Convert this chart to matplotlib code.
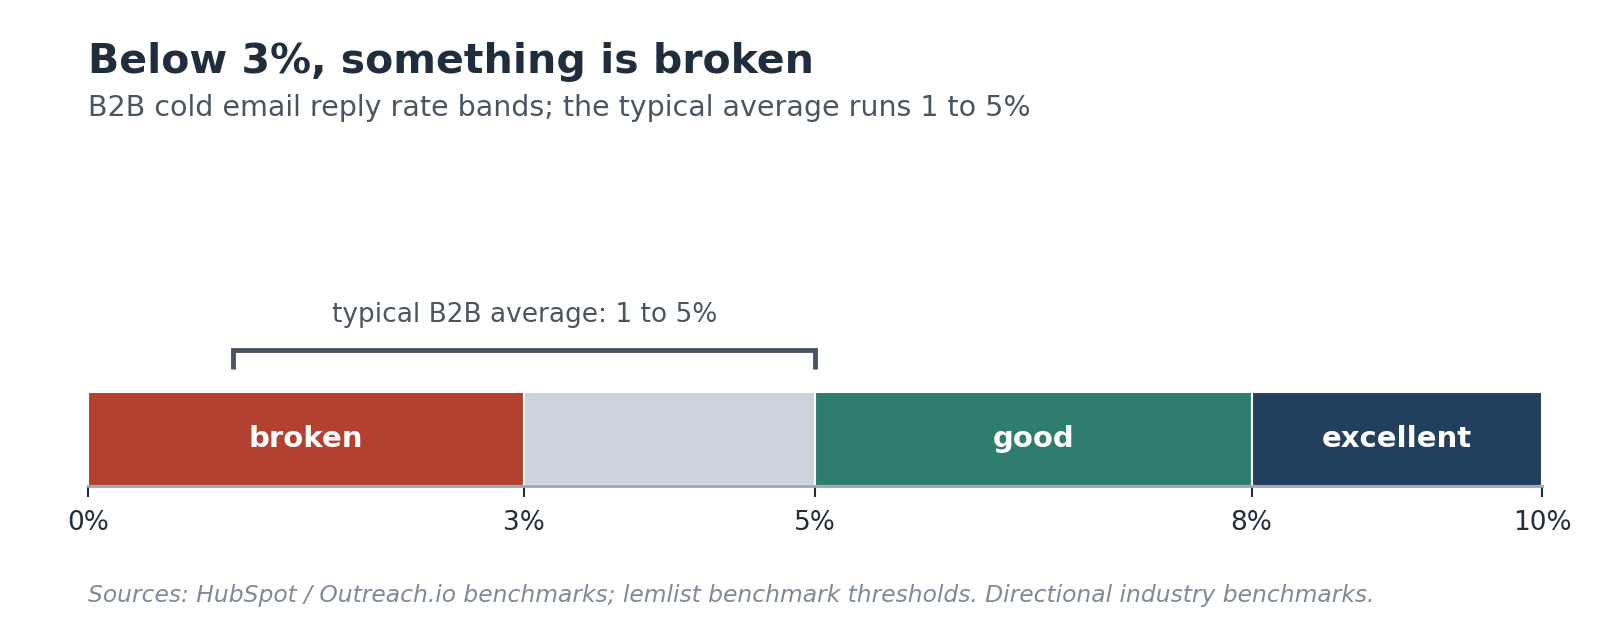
import matplotlib
matplotlib.use('Agg')
import matplotlib.pyplot as plt

bands = ['broken', '', 'good', 'excellent']
starts = [0, 3, 5, 8]
ends = [3, 5, 8, 10]
colors = ['#B34130', '#CBD3DC', '#2E7D6E', '#233F5E']
ticks = [0, 3, 5, 8, 10]
tick_labels = ['0%', '3%', '5%', '8%', '10%']
avg_lo, avg_hi = 1, 5

fig = plt.figure(figsize=(16, 6.4), dpi=100)
ax = fig.add_axes([0.055, 0.2406, 0.909, 0.306])

for name, s, e, c in zip(bands, starts, ends, colors):
    ax.barh(0, e - s, left=s, height=0.48, align='edge', color=c,
            edgecolor='white', linewidth=1.5)
    if name:
        ax.text((s + e) / 2, 0.24, name, ha='center', va='center',
                color='white', fontsize=21, fontweight='bold')

# bracket for typical average
ax.plot([avg_lo, avg_lo, avg_hi, avg_hi], [0.597, 0.694, 0.694, 0.597],
        color='#4A5562', lw=3.5, solid_capstyle='butt', solid_joinstyle='miter')
ax.text((avg_lo + avg_hi) / 2, 0.872, 'typical B2B average: 1 to 5%',
        ha='center', va='center', fontsize=19, color='#4A5562')

ax.set_xlim(0, 10)
ax.set_ylim(0, 1)
ax.set_xticks(ticks)
ax.set_xticklabels(tick_labels, fontsize=19, color='#1F2D3D')
ax.tick_params(axis='x', length=8, width=1.5, color='#1F2D3D', pad=9)
ax.set_yticks([])
for sp in ['top', 'left', 'right']:
    ax.spines[sp].set_visible(False)
ax.spines['bottom'].set_color('#9AA5B4')
ax.spines['bottom'].set_linewidth(2)

fig.text(0.055, 0.903, 'Below 3%, something is broken', fontsize=29.5,
         fontweight='bold', color='#1F2D3D', va='center')
fig.text(0.055, 0.831, 'B2B cold email reply rate bands; the typical average runs 1 to 5%',
         fontsize=20.5, color='#4A5562', va='center')
fig.text(0.055, 0.088 - 0.018, 'Sources: HubSpot / Outreach.io benchmarks; lemlist benchmark thresholds. '
         'Directional industry benchmarks.', fontsize=16.8, style='italic',
         color='#7F8A99', va='center')

fig.savefig('out.png', dpi=100)
